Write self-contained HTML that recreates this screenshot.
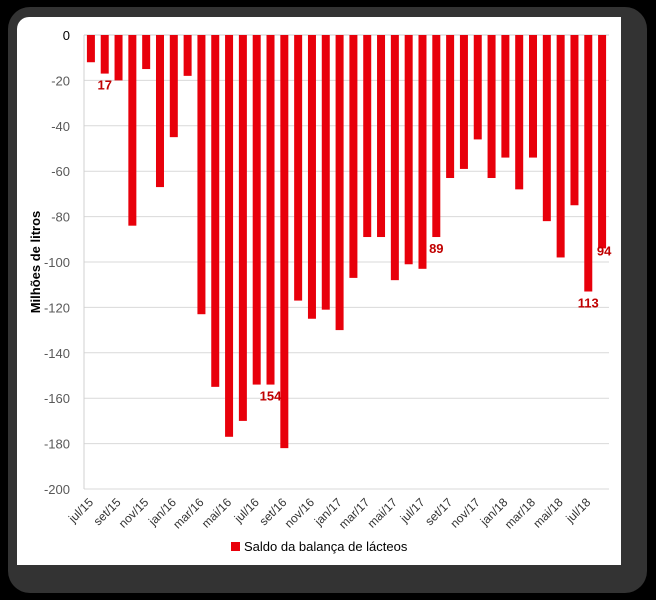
<!DOCTYPE html>
<html><head><meta charset="utf-8"><style>
html,body{margin:0;padding:0;background:#000;width:656px;height:600px;overflow:hidden}
#frame{position:absolute;left:8px;top:7px;width:639px;height:586px;background:#333;border-radius:22px}
#inner{position:absolute;left:17px;top:17px;width:604px;height:548px;background:#fff;border-radius:12px 0 0 0}
svg{position:absolute;left:0;top:0}
text{font-family:"Liberation Sans",sans-serif}
</style></head><body>
<div id="frame"></div>
<div id="inner"></div>
<svg id="chart" width="656" height="600"></svg>
<script>
const months = ["jul/15","ago/15","set/15","out/15","nov/15","dez/15","jan/16","fev/16","mar/16","abr/16","mai/16","jun/16","jul/16","ago/16","set/16","out/16","nov/16","dez/16","jan/17","fev/17","mar/17","abr/17","mai/17","jun/17","jul/17","ago/17","set/17","out/17","nov/17","dez/17","jan/18","fev/18","mar/18","abr/18","mai/18","jun/18","jul/18","ago/18"];
const values = [-12,-17,-20,-84,-15,-67,-45,-18,-123,-155,-177,-170,-154,-154,-182,-117,-125,-121,-130,-107,-89,-89,-108,-101,-103,-89,-63,-59,-46,-63,-54,-68,-54,-82,-98,-75,-113,-94];
const yTicks = [0,-20,-40,-60,-80,-100,-120,-140,-160,-180,-200];
const labeledIdx = [1,13,25,36,37];

const NS="http://www.w3.org/2000/svg";
const svg=document.getElementById('chart');
const X0=84,X1=609,Y0=35,Y1=489;
const step=(X1-X0)/months.length;
const y=v=>Y0+(v/-200)*(Y1-Y0);
const xc=i=>X0+step*(i+0.5);
function mk(t,a){const e=document.createElementNS(NS,t);for(const k in a)e.setAttribute(k,a[k]);svg.appendChild(e);return e;}
yTicks.forEach(t=>{
  const g=mk('line',{x1:X0,x2:X1,y1:y(t),y2:y(t),stroke:t===0?'#ccc':'#d9d9d9','stroke-width':1});
  
  
  const l=mk('text',{x:70,y:y(t)+5,'text-anchor':'end','font-size':13,fill:t===0?'#000':'#595959'});
  l.textContent=t;
  
  
});
const ax=mk('line',{x1:X0,x2:X0,y1:Y0,y2:Y1,stroke:'#d0d0d0'});


values.forEach((v,i)=>{
  const b=mk('rect',{x:xc(i)-4,y:Y0,width:8,height:y(v)-Y0,fill:'#e8000b'});
  
  
  if(i%2===0){
    const tx=xc(i)+3, ty=Y1+14;
    const l=mk('text',{x:tx,y:ty,'text-anchor':'end','font-size':12,fill:'#333',transform:`rotate(-45 ${tx} ${ty})`});
    l.textContent=months[i];
    
    
  }
});
labeledIdx.forEach(i=>{
  const v=values[i];
  let tx=xc(i), ty=y(v)+16;
  if(i===37){tx=xc(i)+2;ty=y(v)+7;}
  const l=mk('text',{x:tx,y:ty,'text-anchor':'middle','font-size':13,'font-weight':'bold',fill:'#c00000'});
  l.textContent=Math.abs(v);
  
  
});
const yt=mk('text',{x:40,y:262,'text-anchor':'middle','font-size':13,'font-weight':'bold',fill:'#000',transform:'rotate(-90 40 262)'});
yt.textContent='Milhões de litros';


const ls=mk('rect',{x:231,y:542,width:9,height:9,fill:'#e8000b'});


const lt=mk('text',{x:244,y:551,'font-size':13,fill:'#000'});
lt.textContent='Saldo da balança de lácteos';


</script>
</body></html>
